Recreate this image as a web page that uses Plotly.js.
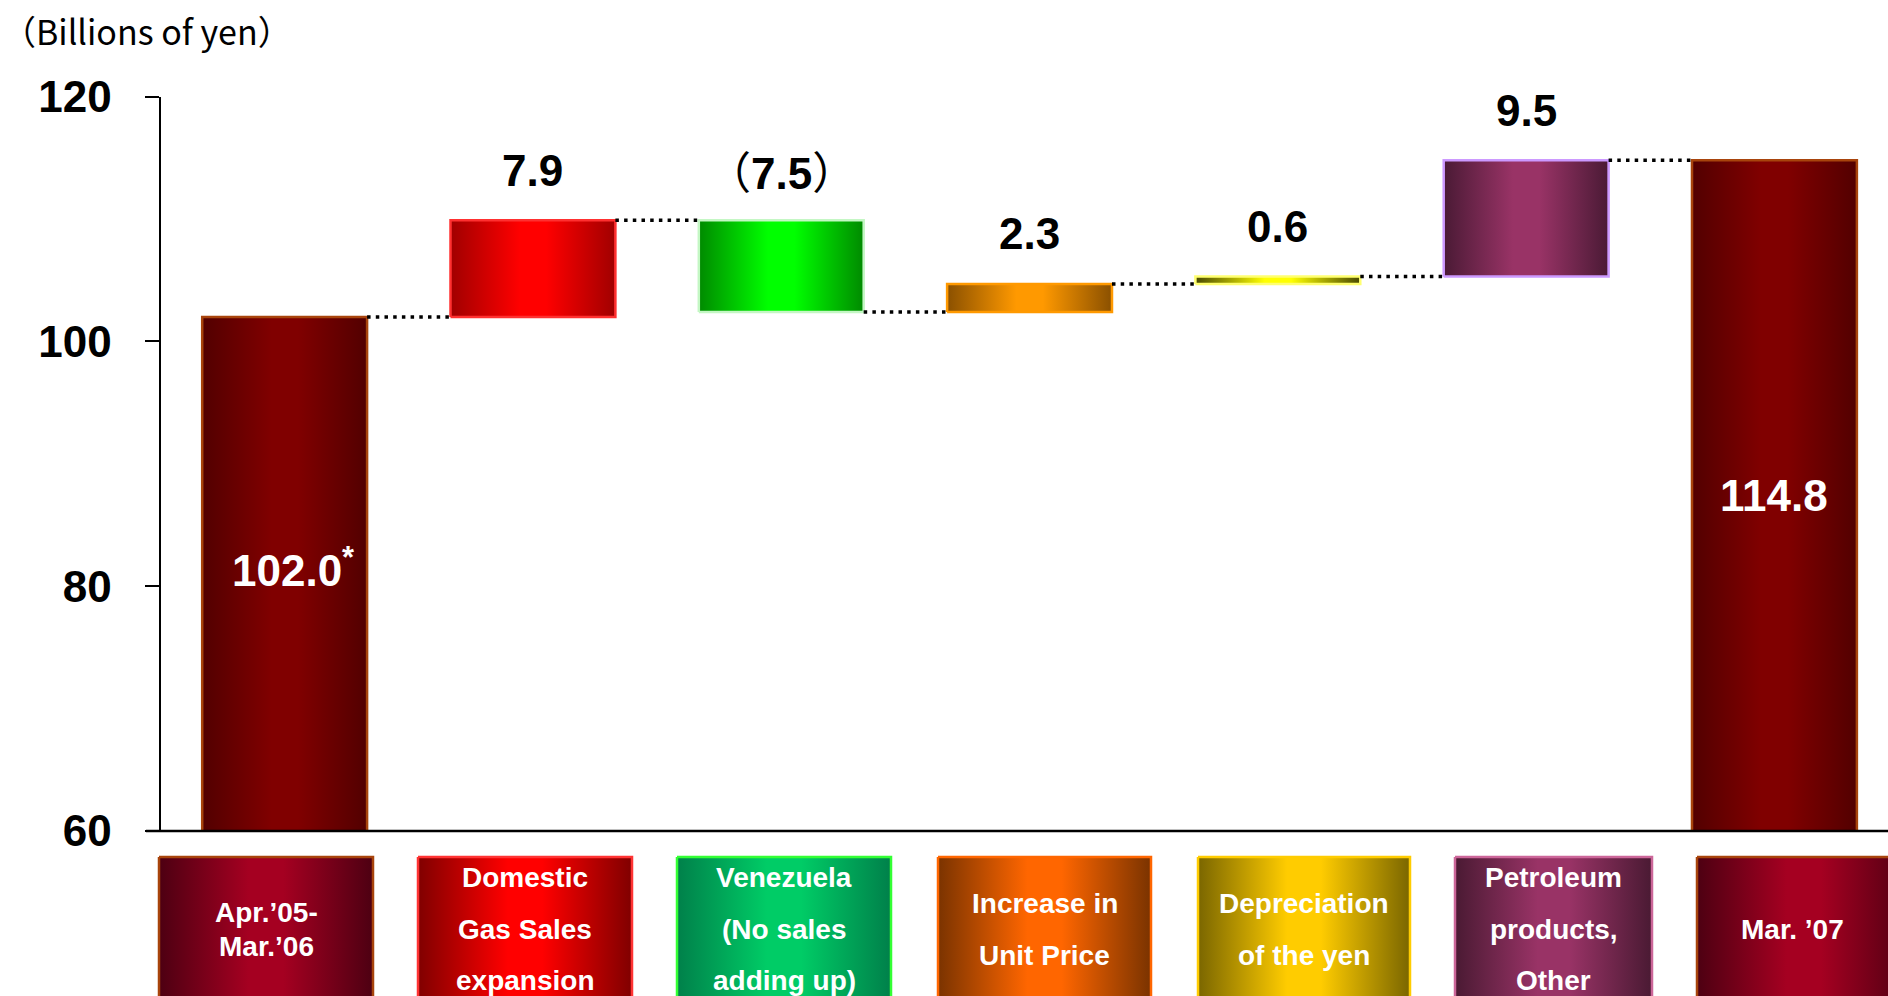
<!DOCTYPE html>
<html><head><meta charset="utf-8">
<script src="https://cdn.plot.ly/plotly-3.0.1.min.js"></script>
<style>html,body{margin:0;padding:0;background:#fff;} #chart{width:1888px;height:996px;}</style>
</head><body><div id="chart"></div>
<script>
// ---------- data ----------
const categoryLines = [
  ["Apr.\u201905-", "Mar.\u201906"],
  ["Domestic", "Gas Sales", "expansion"],
  ["Venezuela", "(No sales", "adding up)"],
  ["Increase in", "Unit Price"],
  ["Depreciation", "of the yen"],
  ["Petroleum", "products,", "Other"],
  ["Mar. \u201907"]
];
const measures = ["total", "relative", "relative", "relative", "relative", "relative", "total"];
const values = [102.0, 7.9, -7.5, 2.3, 0.6, 9.5, 114.8];
const totalNotes = ["*", "", "", "", "", "", ""];
const yTickValues = [60, 80, 100, 120];
const yTickLabels = ["60", "80", "100", "120"];
const unitLabel = "\uFF08Billions of yen\uFF09";

// ---------- styles ----------
const barEdge   = ["#520000", "#a00000", "#008a00", "#8a5000", "#4a4a00", "#4a1a35", "#520000"];
const barCenter = ["#800000", "#ff0000", "#00ff00", "#ff9900", "#ffff00", "#993366", "#800000"];
const barBorder = ["#a8440c", "#ff3030", "#c4f7c4", "#ff9900", "#ffff70", "#cc99ff", "#a8440c"];
const boxEdge   = ["#4d0012", "#800000", "#00804a", "#7a3300", "#7a6600", "#4a1a33", "#4d0012"];
const boxCenter = ["#a50021", "#ff0000", "#00cc66", "#ff6600", "#ffcc00", "#993366", "#a50021"];
const boxBorder = ["#a8440c", "#ff3333", "#33ff33", "#ff6600", "#ffcc00", "#cc6699", "#a8440c"];
// label boxes are placed in page pixels (layout, not data)
const boxLeftPx  = [159, 418, 677, 938, 1198, 1455, 1697];
const boxRightPx = [373, 632, 891, 1151, 1410, 1652, 1911];
const boxTopPx = 857, boxBottomPx = 1010;
const boxLineGap = [34, 51.5, 51.5, 52, 52, 51.5, 0];
const boxTextCenterPx = 929;

const W = 1888, H = 996;
const plotLeft = 160.5, plotTop = 96.7, plotBottom = 831;
const halfW = 0.332;

function grad(e, c) { return [[0, e], [0.42, c], [0.58, c], [1, e]]; }

// running totals
const bases = [], ends = [];
let run = 0;
values.forEach((v, i) => {
  if (measures[i] === "total") { bases.push(0); ends.push(v); run = v; }
  else { bases.push(run); run = run + v; ends.push(run); }
});

const traces = [];
values.forEach((v, i) => {
  const lo = Math.min(bases[i], ends[i]), hi = Math.max(bases[i], ends[i]);
  traces.push({
    type: "scatter", mode: "lines", xaxis: "x", yaxis: "y",
    x: [i - halfW, i + halfW, i + halfW, i - halfW, i - halfW],
    y: [lo, lo, hi, hi, lo],
    fill: "toself",
    fillgradient: { type: "horizontal", colorscale: grad(barEdge[i], barCenter[i]) },
    line: { color: barBorder[i], width: 2.5 },
    hoverinfo: "skip", showlegend: false
  });
});

// connectors
const cx = [], cy = [];
for (let i = 0; i < values.length - 1; i++) {
  cx.push(i + halfW, i + 1 - halfW, null);
  cy.push(ends[i], ends[i], null);
}
traces.push({
  type: "scatter", mode: "lines", x: cx, y: cy, xaxis: "x", yaxis: "y",
  line: { color: "#000", width: 3.5, dash: "3.5px,5.2px" },
  hoverinfo: "skip", showlegend: false
});

// label boxes
categoryLines.forEach((lines, i) => {
  const l = boxLeftPx[i], r = boxRightPx[i];
  traces.push({
    type: "scatter", mode: "lines", xaxis: "x2", yaxis: "y2",
    x: [l, r, r, l, l], y: [boxTopPx, boxTopPx, boxBottomPx, boxBottomPx, boxTopPx],
    fill: "toself",
    fillgradient: { type: "horizontal", colorscale: grad(boxEdge[i], boxCenter[i]) },
    line: { color: boxBorder[i], width: 2.5 },
    hoverinfo: "skip", showlegend: false
  });
});

const annotations = [];
const numFont = { family: "Liberation Sans, Arial, sans-serif", size: 44, color: "#000", weight: "bold" };
values.forEach((v, i) => {
  if (measures[i] === "total") {
    annotations.push({
      x: i, y: (Math.max(60, bases[i]) + ends[i]) / 2, xref: "x", yref: "y",
      text: v.toFixed(1) + (totalNotes[i] ? "<sup>" + totalNotes[i] + "</sup>" : ""),
      showarrow: false, xanchor: "center", yanchor: "middle",
      xshift: totalNotes[i] ? 8 : 0, yshift: totalNotes[i] ? 6 : 0,
      font: Object.assign({}, numFont, { color: "#fff" })
    });
  } else {
    const txt = v < 0
      ? "<span style='font-weight:normal;font-family:Noto Sans CJK JP'>\uFF08</span>" + Math.abs(v).toFixed(1) + "<span style='font-weight:normal;font-family:Noto Sans CJK JP'>\uFF09</span>"
      : v.toFixed(1);
    annotations.push({
      x: i, y: Math.max(bases[i], ends[i]), xref: "x", yref: "y",
      text: txt, showarrow: false, xanchor: "center", yanchor: "middle", yshift: 50,
      font: numFont
    });
  }
});
categoryLines.forEach((lines, i) => {
  const centerX = i === 6 ? 1792 : (boxLeftPx[i] + boxRightPx[i]) / 2;
  lines.forEach((t, k) => {
    annotations.push({
      x: centerX, y: boxTextCenterPx + (k - (lines.length - 1) / 2) * boxLineGap[i],
      xref: "x2", yref: "y2", text: t, showarrow: false,
      xanchor: "center", yanchor: "middle",
      font: { family: "Liberation Sans, Arial, sans-serif", size: 28, color: "#fff", weight: "bold" }
    });
  });
});
annotations.push({
  x: 0, y: 1 - 31 / H, xref: "paper", yref: "paper", text: unitLabel,
  showarrow: false, xanchor: "left", yanchor: "middle",
  font: { family: "Noto Sans CJK JP, Noto Sans, sans-serif", size: 34, color: "#000" }
});

const layout = {
  width: W, height: H,
  margin: { l: 0, r: 0, t: 0, b: 0, pad: 0 },
  paper_bgcolor: "#fff", plot_bgcolor: "rgba(0,0,0,0)",
  showlegend: false, hovermode: false,
  xaxis: {
    domain: [plotLeft / W, 1], range: [-0.5, -0.5 + (W - plotLeft) / 248.3],
    showgrid: false, zeroline: false, showticklabels: false, showline: false, ticks: "",
    anchor: "y", fixedrange: true
  },
  yaxis: {
    domain: [(H - plotBottom) / H, (H - plotTop) / H], range: [60, 120],
    tickvals: yTickValues, ticktext: yTickLabels,
    showgrid: false, zeroline: false, showline: true, linecolor: "#000", linewidth: 2,
    ticks: "outside", ticklen: 14, tickwidth: 2, tickcolor: "#000",
    ticklabelstandoff: 24,
    tickfont: { family: "Liberation Sans, Arial, sans-serif", size: 44, color: "#000", weight: "bold" },
    anchor: "x", fixedrange: true
  },
  xaxis2: { domain: [0, 1], range: [0, W], visible: false, anchor: "y2", fixedrange: true },
  yaxis2: { domain: [0, (H - 840) / H], range: [H, 840], visible: false, anchor: "x2", fixedrange: true },
  shapes: [{
    type: "line", xref: "paper", yref: "paper",
    x0: 146 / W, x1: 1, y0: (H - plotBottom) / H, y1: (H - plotBottom) / H,
    line: { color: "#000", width: 2.5 }
  }],
  annotations: annotations
};

Plotly.newPlot("chart", traces, layout, { staticPlot: true, displayModeBar: false });
</script>
</body></html>
